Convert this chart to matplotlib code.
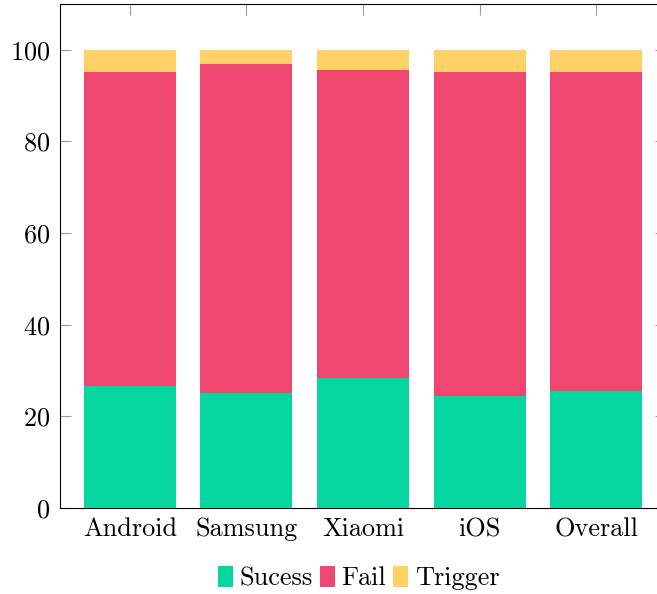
import matplotlib

matplotlib.use("Agg")
import matplotlib.pyplot as plt
import numpy as np

categories = ["Android", "Samsung", "Xiaomi", "iOS", "Overall"]
success = [26.7, 25.1, 28.3, 24.5, 25.5]
fail = [68.4, 71.7, 67.2, 70.6, 69.6]
trigger = [4.9, 3.2, 4.5, 4.9, 4.9]
series_names = ["Sucess", "Fail", "Trigger"]
colors = ["#06D6A0", "#EF476F", "#FFD166"]

plt.rcParams.update({
    "font.family": "cmr10",
    "mathtext.fontset": "cm",
    "axes.formatter.use_mathtext": True,
    "font.size": 18.9,
})

fig = plt.figure(figsize=(6.57, 5.94), dpi=100)
ax = fig.add_axes([60 / 657, 1 - 508 / 594, 606 / 657, 504 / 594])

x = np.arange(len(categories))
bottom = np.zeros(len(categories))
handles = []
for name, vals, col in zip(series_names, [success, fail, trigger], colors):
    b = ax.bar(x, vals, width=0.79, bottom=bottom, color=col, label=name, zorder=3)
    handles.append(b)
    bottom += np.array(vals)

ax.set_xlim(-0.6, 4.6)
ax.set_ylim(0, 110)
ax.set_xticks(x)
ax.set_xticklabels(categories)
ax.set_yticks([0, 20, 40, 60, 80, 100])

for s in ax.spines.values():
    s.set_linewidth(0.8)
    s.set_color("black")

ax.tick_params(axis="both", which="major", direction="in", length=8, width=0.8,
               color="#999999", top=True, right=True)
ax.tick_params(axis="y", pad=7)
ax.tick_params(axis="x", pad=7)

fig.legend(handles=handles, labels=series_names, loc="center",
           bbox_to_anchor=(358.7 / 657, 1 - 578 / 594), ncol=3, frameon=False,
           handlelength=0.58, handleheight=0.85, handletextpad=0.26,
           columnspacing=0.25, borderaxespad=0, borderpad=0)

fig.savefig("out.png", dpi=100)
